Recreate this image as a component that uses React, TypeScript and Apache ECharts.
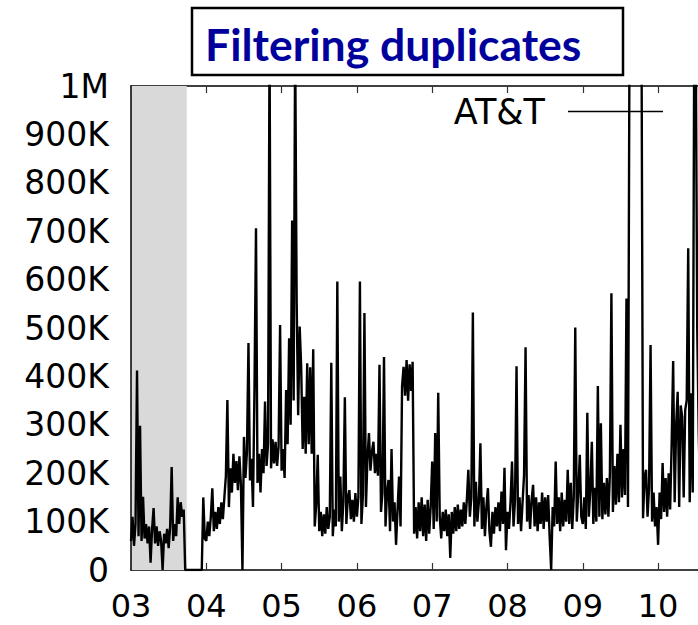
import React, { useEffect, useRef } from "react";
import * as echarts from "echarts";

// month labels shown on the x axis (value axis: month number)
const monthLabels = ["03", "04", "05", "06", "07", "08", "09", "10"];
const monthStarts = [3, 4, 5, 6, 7, 8, 9, 10];
const step = 0.02; // sampling step in months
const xMax = 10.53; // right edge of the visible window

// values in thousands (K), one sample every 0.02 month
const mar = [60, 110, 50, 95, 412, 70, 298, 60, 151, 65, 95, 55, 90, 15, 85, 128, 55, 90, 50, 80, 60, 0, 75, 55, 85, 45, 90, 213, 60, 95, 70, 150, 95, 140, 110, 125, 0, 0, 0, 0, 0, 0, 0, 0, 0, 0, 0, 0, 150, 65];
const apr = [60, 100, 70, 110, 169, 80, 120, 85, 130, 95, 140, 105, 150, 194, 351, 130, 210, 160, 240, 180, 225, 165, 235, 175, 0, 275, 190, 245, 469, 185, 230, 130, 376, 706, 180, 240, 160, 250, 200, 348, 215, 260, 1100, 210, 270, 220, 265, 215, 255, 506];
const may = [205, 250, 190, 372, 260, 479, 300, 722, 350, 1100, 554, 320, 503, 420, 250, 358, 240, 427, 260, 419, 240, 456, 90, 135, 238, 80, 120, 70, 115, 75, 130, 85, 110, 428, 70, 125, 90, 596, 100, 193, 80, 140, 357, 95, 150, 165, 105, 145, 100, 159];
const jun = [110, 150, 596, 95, 155, 531, 130, 230, 283, 205, 245, 265, 200, 240, 195, 424, 120, 160, 440, 90, 159, 186, 80, 250, 100, 140, 52, 125, 193, 90, 380, 420, 360, 434, 350, 425, 370, 430, 75, 130, 65, 140, 80, 150, 70, 135, 60, 145, 75, 130];
const jul = [224, 85, 283, 100, 366, 110, 65, 120, 80, 125, 70, 115, 25, 120, 75, 130, 80, 135, 85, 125, 90, 140, 95, 145, 207, 110, 150, 532, 90, 182, 100, 140, 262, 85, 150, 70, 130, 169, 80, 48, 120, 75, 130, 90, 140, 80, 162, 95, 211, 41];
const aug = [120, 85, 140, 224, 90, 145, 421, 95, 150, 80, 140, 196, 460, 100, 155, 85, 145, 176, 90, 150, 80, 140, 95, 160, 85, 150, 100, 155, 68, 0, 130, 90, 224, 95, 150, 80, 160, 90, 145, 100, 207, 95, 180, 85, 150, 501, 100, 160, 238, 110];
const sep = [95, 150, 85, 325, 110, 165, 265, 95, 170, 100, 380, 110, 303, 105, 180, 115, 190, 110, 200, 572, 120, 215, 135, 240, 140, 300, 150, 250, 155, 561, 130, 1100, null, null, null, null, null, null, null, 1100, 107, 190, 207, 110, 170, 465, 100, 160, 90, 130];
const oct = [52, 160, 105, 221, 120, 190, 110, 200, 125, 260, 432, 140, 300, 368, 130, 340, 317, 150, 330, 351, 665, 140, 365, 160, 1100, 1100, 496, 280, 150];

const monthValues = [mar, apr, may, jun, jul, aug, sep, oct];
const seriesName = "AT&T";
const shadedRange = [3, 3.74];
const yTicks = { min: 0, max: 1000000, interval: 100000 };

export default function App() {
  const ref = useRef<HTMLDivElement>(null);

  useEffect(() => {
    document.body.style.margin = "0";
    if (!ref.current) return;
    const chart = echarts.init(ref.current, undefined, { renderer: "svg" });

    const data: (number | null)[][] = [];
    monthValues.forEach((vals, mi) => {
      vals.forEach((v, i) => {
        const x = +(monthStarts[mi] + i * step).toFixed(4);
        data.push([x, v === null ? null : v * 1000]);
      });
    });

    const font = "DejaVu Sans";
    const xAxisCommon = {
      type: "value",
      min: 3,
      max: xMax,
      interval: 1,
      splitLine: { show: false },
      axisLine: { show: true, lineStyle: { color: "#000", width: 1.5 } },
      axisTick: { show: true, inside: true, length: 7, lineStyle: { color: "#333", width: 1.2 } },
    };

    chart.setOption({
      animation: false,
      backgroundColor: "#fff",
      grid: { left: 131, top: 86, bottom: 55, right: 0, containLabel: false },
      legend: {
        data: [seriesName],
        right: 35,
        top: 94,
        padding: 0,
        align: "right",
        icon: "rect",
        itemWidth: 95,
        itemHeight: 1.5,
        itemStyle: { color: "#000" },
        textStyle: { fontFamily: font, fontSize: 35, color: "#000", padding: [0, 18, 0, 0] },
      },
      xAxis: [
        {
          ...xAxisCommon,
          position: "bottom",
          axisLabel: {
            show: true,
            margin: 20,
            fontFamily: font,
            fontSize: 32,
            color: "#000",
            showMaxLabel: false,
            formatter: (v: number) => monthLabels[Math.round(v) - 3] ?? "",
          },
        },
        {
          ...xAxisCommon,
          position: "top",
          axisLabel: { show: false },
        },
      ],
      yAxis: {
        type: "value",
        min: yTicks.min,
        max: yTicks.max,
        interval: yTicks.interval,
        z: 5,
        splitLine: { show: false },
        axisLine: { show: true, lineStyle: { color: "#000", width: 1.5 } },
        axisTick: { show: false },
        axisLabel: {
          margin: 22,
          fontFamily: font,
          fontSize: 33,
          color: "#000",
          formatter: (v: number) => (v === 0 ? "0" : v >= 1000000 ? "1M" : v / 1000 + "K"),
        },
      },
      graphic: [
        {
          type: "rect",
          shape: { x: 192, y: 8, width: 431, height: 67 },
          style: { fill: "#fff", stroke: "#000", lineWidth: 2.5 },
        },
        {
          type: "text",
          x: 205,
          y: 43,
          style: {
            text: "Filtering duplicates",
            fontFamily: "Lato",
            fontWeight: "bold",
            fontSize: 44.5,
            fill: "#00009c",
            textAlign: "left",
            textVerticalAlign: "middle",
          },
        },
      ],
      series: [
        {
          name: seriesName,
          type: "line",
          data,
          symbol: "none",
          showSymbol: false,
          connectNulls: false,
          clip: true,
          lineStyle: { color: "#000", width: 2.4 },
          itemStyle: { color: "#000" },
          markArea: {
            silent: true,
            itemStyle: { color: "#d9d9d9" },
            data: [[{ xAxis: shadedRange[0] }, { xAxis: shadedRange[1] }]],
          },
        },
      ],
    });

    return () => chart.dispose();
  }, []);

  return <div ref={ref} style={{ width: 698, height: 625 }} />;
}
